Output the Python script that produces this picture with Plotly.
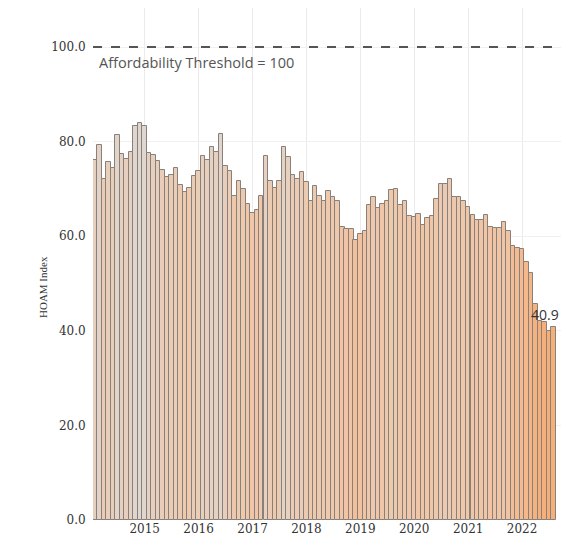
import pandas as pd
import plotly.graph_objects as go

# Monthly HOAM index, Feb 2014 .. Aug 2022
start_month = "2014-02-01"
hoam_values = [76.2, 79.2, 72.1, 75.7, 74.4, 81.5, 77.4, 76.4, 77.9, 83.2,
               84.0, 83.2, 77.7, 77.1, 75.8, 73.9, 72.5, 72.9, 74.4, 70.9,
               69.4, 70.1, 72.8, 73.7, 76.9, 76.2, 78.8, 77.9, 81.7, 74.8,
               73.7, 68.6, 71.6, 69.9, 66.9, 65.0, 65.5, 68.6, 77.0, 71.6,
               70.1, 71.6, 78.9, 76.8, 73.0, 72.2, 73.6, 71.5, 67.4, 70.6,
               68.6, 67.4, 69.5, 68.3, 67.4, 62.0, 61.6, 61.6, 59.3, 60.4,
               61.1, 66.6, 68.3, 66.0, 66.9, 67.4, 69.7, 70.0, 66.6, 67.4,
               64.2, 64.1, 64.8, 62.3, 63.9, 64.2, 67.8, 71.1, 71.1, 72.0,
               68.2, 68.3, 67.4, 66.2, 64.5, 63.4, 63.4, 64.5, 62.0, 61.7,
               61.7, 63.0, 61.1, 57.9, 57.6, 57.2, 54.6, 52.3, 45.6, 42.1,
               41.8, 40.0, 40.9]
months = pd.date_range(start_month, periods=len(hoam_values), freq="MS")

threshold = 100
threshold_label = "Affordability Threshold = 100"
y_ticks = [0, 20, 40, 60, 80, 100]
y_tick_labels = ["0.0", "20.0", "40.0", "60.0", "80.0", "100.0"]
year_ticks = ["2015", "2016", "2017", "2018", "2019", "2020", "2021", "2022"]

colorscale = [[0.0, "#f5ae78"], [0.37, "#f4b98e"], [0.47, "#f0c4a3"],
              [0.667, "#edc9ae"], [1.0, "#ddd8d3"]]

fig = go.Figure()
fig.add_trace(go.Bar(
    x=months,
    y=hoam_values,
    width=30.4 * 86400000,
    marker=dict(color=hoam_values, colorscale=colorscale, cmin=40, cmax=85,
                line=dict(color="#8a807a", width=1)),
    showlegend=False,
))

fig.add_shape(type="line", xref="paper", yref="y", x0=0, x1=1,
              y0=threshold, y1=threshold,
              line=dict(color="#555555", width=2, dash="dash"))

fig.add_annotation(xref="paper", yref="y", x=0.008, y=threshold,
                   yshift=-4, text=threshold_label, showarrow=False,
                   xanchor="left", yanchor="top",
                   font=dict(family="Open Sans", size=14.5, color="#555555"))

fig.add_annotation(x=months[-1], y=hoam_values[-1], text=f"{hoam_values[-1]:.1f}",
                   showarrow=False, yanchor="bottom", yshift=1, xshift=-8,
                   font=dict(family="Open Sans", size=14, color="#333333"))

fig.add_annotation(xref="paper", yref="paper", x=-0.124, y=0.455,
                   text="HOAM Index", textangle=-90, showarrow=False,
                   font=dict(family="Liberation Serif", size=11, color="#333333"))

fig.update_layout(
    width=553, height=529,
    margin=dict(l=85, r=0, t=0, b=17),
    plot_bgcolor="white", paper_bgcolor="white",
    bargap=0,
    xaxis=dict(
        range=["2014-01-16", "2022-09-22"],
        tickvals=[f"{y}-01-01" for y in year_ticks],
        ticktext=year_ticks,
        showgrid=True, gridcolor="#ebebeb", gridwidth=1,
        zeroline=False, showline=False,
        ticks="",
        tickfont=dict(family="DejaVu Serif", size=12, color="#333333"),
        automargin=False,
    ),
    yaxis=dict(
        range=[0, 108.25],
        tickvals=y_ticks, ticktext=y_tick_labels,
        showgrid=True, gridcolor="#f0f0f0", gridwidth=1,
        zeroline=False, showline=False,
        ticks="outside", ticklen=4, tickcolor="white",
        tickfont=dict(family="DejaVu Serif", size=12, color="#333333"),
    ),
)

fig.write_html("out.html")
